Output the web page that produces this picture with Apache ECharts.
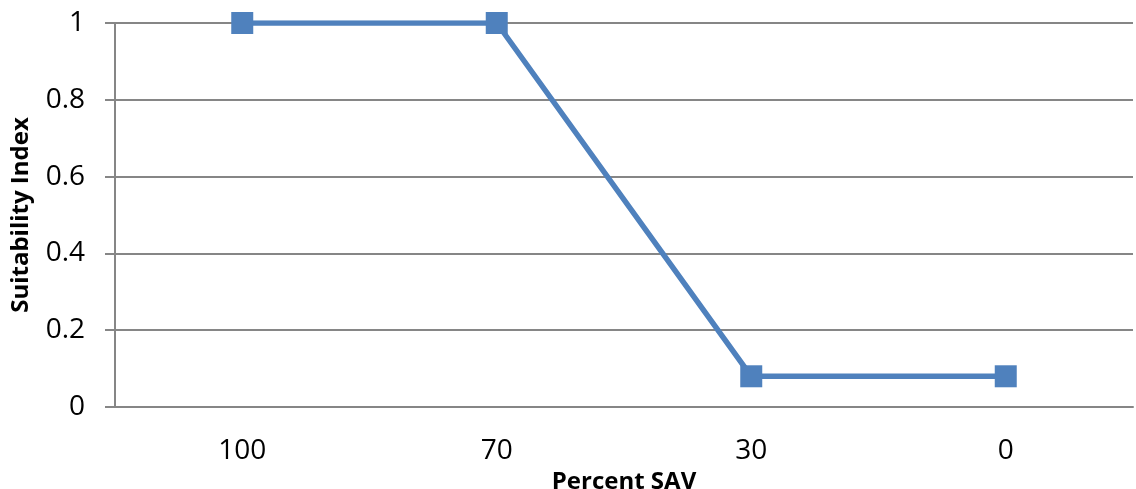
<!DOCTYPE html>
<html><head><meta charset="utf-8">
<script src="https://cdn.jsdelivr.net/npm/echarts@6/dist/echarts.min.js"></script>
<style>html,body{margin:0;padding:0;background:#fff}#c{width:1136px;height:489px}</style>
</head><body><div id="c"></div>
<script>
const categories = ['100', '70', '30', '0'];
const suitability = [1, 1, 0.08, 0.08];
const yTicks = [0, 0.2, 0.4, 0.6, 0.8, 1];

const chart = echarts.init(document.getElementById('c'), null, {renderer: 'canvas'});
const font = '"Open Sans", "Liberation Sans", sans-serif';
chart.setOption({
  animation: false,
  backgroundColor: '#fff',
  grid: {left: 115, right: 3, top: 23, bottom: 82, containLabel: false, outerBoundsMode: 'none'},
  xAxis: {
    type: 'category',
    data: categories,
    boundaryGap: true,
    name: 'Percent SAV',
    nameLocation: 'middle',
    nameGap: 56,
    nameTextStyle: {fontFamily: font, fontWeight: 'bold', fontSize: 24, color: '#000'},
    axisLine: {lineStyle: {color: '#868686', width: 2}},
    axisTick: {show: false},
    axisLabel: {fontFamily: font, fontSize: 28, color: '#000', margin: 30},
    splitLine: {show: false}
  },
  yAxis: {
    type: 'value',
    min: yTicks[0],
    max: yTicks[yTicks.length - 1],
    interval: 0.2,
    name: 'Suitability Index',
    nameLocation: 'middle',
    nameGap: 82,
    nameRotate: 90,
    nameTextStyle: {fontFamily: font, fontWeight: 'bold', fontSize: 24, color: '#000'},
    axisLine: {show: true, lineStyle: {color: '#868686', width: 2}},
    axisTick: {show: true, inside: false, length: 10, lineStyle: {color: '#868686', width: 2}},
    axisLabel: {fontFamily: font, fontSize: 28, color: '#000', margin: 30,
      formatter: v => String(Math.round(v * 10) / 10)},
    splitLine: {show: true, lineStyle: {color: '#868686', width: 2}}
  },
  series: [{
    type: 'line',
    data: suitability,
    symbol: 'rect',
    symbolSize: 22,
    lineStyle: {color: '#4F81BD', width: 5.5},
    itemStyle: {color: '#4F81BD'},
    z: 5
  }]
});
</script></body></html>
